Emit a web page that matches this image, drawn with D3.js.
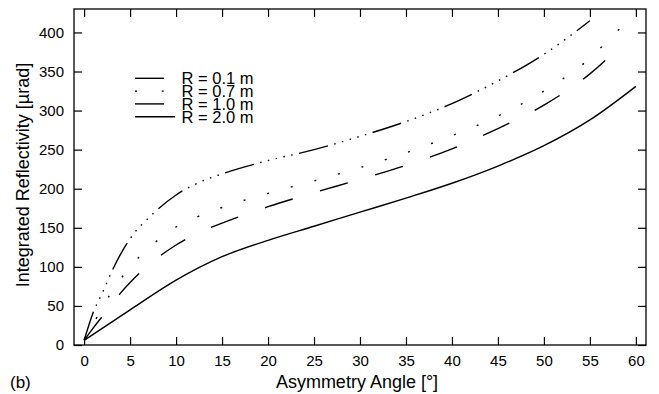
<!DOCTYPE html>
<html>
<head>
<meta charset="utf-8">
<script src="https://cdn.jsdelivr.net/npm/d3@7"></script>
<style>
  body { margin: 0; background: #fff; }
  text { font-family: "Liberation Sans", Arial, Helvetica, sans-serif; fill: #000; }
</style>
</head>
<body>
<div id="chart"></div>
<script>
// values (angle in degrees, reflectivity in µrad)
const seriesNames = ["R = 0.1 m", "R = 0.7 m", "R = 1.0 m", "R = 2.0 m"];

const angles01 = [0, 1, 2, 3, 4, 5, 7.5, 10, 12.5, 15, 20, 25, 30, 35, 40, 45, 50, 55];
const refl01   = [6, 42, 67, 94, 117, 136, 168, 192, 208, 219, 236, 250, 267, 286, 309, 338, 372, 415];

const angles07 = [0, 1, 2, 3, 4, 5, 7.5, 10, 12.5, 15, 20, 25, 30, 35, 40, 45, 50, 55, 58, 59];
const refl07   = [6, 27, 48, 68, 85, 100, 129, 151, 165, 176, 194, 210, 227, 246, 268, 293, 325, 367, 402, 413];

const angles10 = [0, 1, 2, 3, 4, 5, 7.5, 10, 12.5, 15, 20, 25, 30, 35, 40, 45, 50, 55, 58];
const refl10   = [6, 22, 37, 52, 67, 80, 107, 128, 144, 156, 177, 195, 212, 230, 251, 277, 307, 347, 379];

const angles20 = [0, 5, 10, 15, 20, 25, 30, 35, 40, 45, 50, 55, 60];
const refl20   = [6, 45, 83, 113, 134, 152, 170, 188, 207, 229, 255, 288, 331];

const xTicks = [0, 5, 10, 15, 20, 25, 30, 35, 40, 45, 50, 55, 60];
const yTicks = [0, 50, 100, 150, 200, 250, 300, 350, 400];

// line styles for each radius
const dashes = [
  "30,6.5,1.5,6.5,1.5,6.5,1.5,6.5,1.5,6.5,1.5,6.5",
  "2,22.5",
  "29,28.5",
  null
];
const legendDashes = [null, "2,24.7", null, null];

const W = 659, H = 394;
const margin = {top: 9, right: 13, bottom: 49, left: 74};

const svg = d3.select("#chart").append("svg")
  .attr("width", W)
  .attr("height", H);

const x = d3.scaleLinear().domain([-1.1, 61.1]).range([margin.left, W - margin.right]);
const y = d3.scaleLinear().domain([0, 430]).range([H - margin.bottom, margin.top]);

// axes, ticks pointing inward
const xb = svg.append("g")
  .attr("transform", `translate(0,${H - margin.bottom})`)
  .call(d3.axisBottom(x).tickValues(xTicks).tickSizeInner(-8).tickSizeOuter(0).tickPadding(10));
const xt = svg.append("g")
  .attr("transform", `translate(0,${margin.top})`)
  .call(d3.axisTop(x).tickValues(xTicks).tickSizeInner(-8).tickSizeOuter(0).tickFormat(""));
const yl = svg.append("g")
  .attr("transform", `translate(${margin.left},0)`)
  .call(d3.axisLeft(y).tickValues(yTicks).tickSizeInner(-8).tickSizeOuter(0).tickPadding(10));
const yr = svg.append("g")
  .attr("transform", `translate(${W - margin.right},0)`)
  .call(d3.axisRight(y).tickValues(yTicks).tickSizeInner(-8).tickSizeOuter(0).tickFormat(""));

[xb, xt, yl, yr].forEach(g => {
  g.select(".domain").remove();
  g.selectAll(".tick line").attr("stroke", "#000").attr("stroke-width", 1.2);
  g.selectAll("text").style("font-size", "15px").attr("fill", "#000");
});

// frame
svg.append("rect")
  .attr("x", margin.left)
  .attr("y", margin.top)
  .attr("width", W - margin.left - margin.right)
  .attr("height", H - margin.top - margin.bottom)
  .attr("fill", "none")
  .attr("stroke", "#000")
  .attr("stroke-width", 1.3);

// curves
const series = [
  angles01.map((a, i) => [a, refl01[i]]),
  angles07.map((a, i) => [a, refl07[i]]),
  angles10.map((a, i) => [a, refl10[i]]),
  angles20.map((a, i) => [a, refl20[i]])
];

const line = d3.line()
  .x(d => x(d[0]))
  .y(d => y(d[1]))
  .curve(d3.curveMonotoneX);

svg.append("g").selectAll("path")
  .data(series)
  .join("path")
    .attr("d", line)
    .attr("fill", "none")
    .attr("stroke", "#000")
    .attr("stroke-width", 1.4)
    .attr("stroke-dasharray", (d, i) => dashes[i]);

// legend (rows sit tight together like the original)
const legend = svg.append("g");
seriesNames.forEach((name, i) => {
  const base = 84.3 + i * 12.8;
  legend.append("line")
    .attr("x1", 135).attr("x2", i == 3 ? 175 : 164)
    .attr("y1", base - 6).attr("y2", base - 6)
    .attr("stroke", "#000")
    .attr("stroke-width", 1.4)
    .attr("stroke-dasharray", legendDashes[i]);
  legend.append("text")
    .attr("x", 181.5)
    .attr("y", base)
    .style("font-size", "16.5px")
    .text(name);
});

// axis titles
svg.append("text")
  .attr("x", 357)
  .attr("y", 388)
  .attr("text-anchor", "middle")
  .style("font-size", "18px")
  .text("Asymmetry Angle [°]");

svg.append("text")
  .attr("transform", "translate(29,175) rotate(-90)")
  .attr("text-anchor", "middle")
  .style("font-size", "18px")
  .text("Integrated Reflectivity [µrad]");

svg.append("text")
  .attr("x", 10)
  .attr("y", 388)
  .style("font-size", "17px")
  .text("(b)");
</script>
</body>
</html>
